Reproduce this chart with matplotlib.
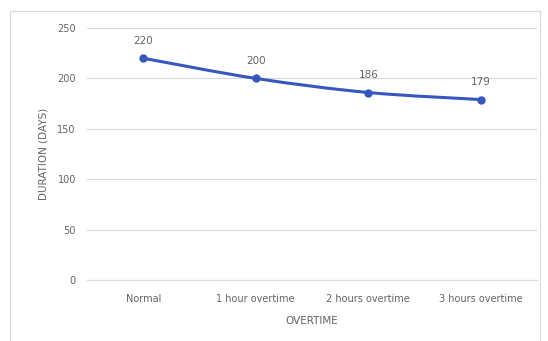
import numpy as np
import matplotlib
matplotlib.use("Agg")
import matplotlib.pyplot as plt
from matplotlib.patches import Rectangle
from matplotlib.path import Path
from matplotlib.patches import PathPatch

categories = ["Normal", "1 hour overtime", "2 hours overtime", "3 hours overtime"]
duration = [220, 200, 186, 179]
y_ticks = [0, 50, 100, 150, 200, 250]

LINE = "#3757BE"
TEXT = "#646464"
GRID = "#D9D9D9"

fig = plt.figure(figsize=(5.48, 3.41), dpi=100)
fig.patch.set_facecolor("white")

# light chart-area frame
fig.patches.append(Rectangle((10 / 548, -0.01), 530 / 548, 1 - 11 / 341 + 0.01,
                             transform=fig.transFigure, fill=False,
                             edgecolor="#D9D9D9", linewidth=0.8))

ax = fig.add_axes([87 / 548, 1 - 280 / 341, 450 / 548, 252 / 341])
x = np.arange(len(categories))
ax.set_xlim(-0.5, len(categories) - 0.5)
ax.set_ylim(0, 250)

# smoothed connecting line (cardinal spline drawn as cubic Bezier segments)
pts = np.column_stack([x, duration]).astype(float)
verts = [tuple(pts[0])]
codes = [Path.MOVETO]
t = 1 / 6
for i in range(len(pts) - 1):
    p0 = pts[i - 1] if i > 0 else pts[i]
    p1, p2 = pts[i], pts[i + 1]
    p3 = pts[i + 2] if i + 2 < len(pts) else pts[i + 1]
    c1 = p1 + (p2 - p0) * t
    c2 = p2 - (p3 - p1) * t
    verts += [tuple(c1), tuple(c2), tuple(p2)]
    codes += [Path.CURVE4] * 3
ax.add_patch(PathPatch(Path(verts, codes), facecolor="none", edgecolor=LINE,
                       linewidth=2.2, capstyle="round", zorder=3))
ax.plot(x, duration, linestyle="none", marker="o", markersize=5,
        color=LINE, zorder=4)

for xi, v in zip(x, duration):
    ax.annotate(f"{v}", (xi, v), xytext=(0, 9), textcoords="offset points",
                ha="center", va="bottom", fontsize=7.5, color=TEXT)

ax.set_yticks(y_ticks)
ax.set_xticks(x)
ax.set_xticklabels(categories)
ax.grid(axis="y", color=GRID, linewidth=0.8)
ax.set_axisbelow(True)
for s in ["top", "right", "left"]:
    ax.spines[s].set_visible(False)
ax.spines["bottom"].set_color(GRID)
ax.spines["bottom"].set_linewidth(0.8)
ax.tick_params(axis="both", length=0, labelsize=7, labelcolor=TEXT)
ax.tick_params(axis="y", pad=8)
ax.tick_params(axis="x", pad=10)

ax.set_xlabel("OVERTIME", fontsize=7.5, color=TEXT, labelpad=9)
ax.set_ylabel("DURATION (DAYS)", fontsize=7.5, color=TEXT, labelpad=6)

fig.savefig("out.png", dpi=100, facecolor="white")
